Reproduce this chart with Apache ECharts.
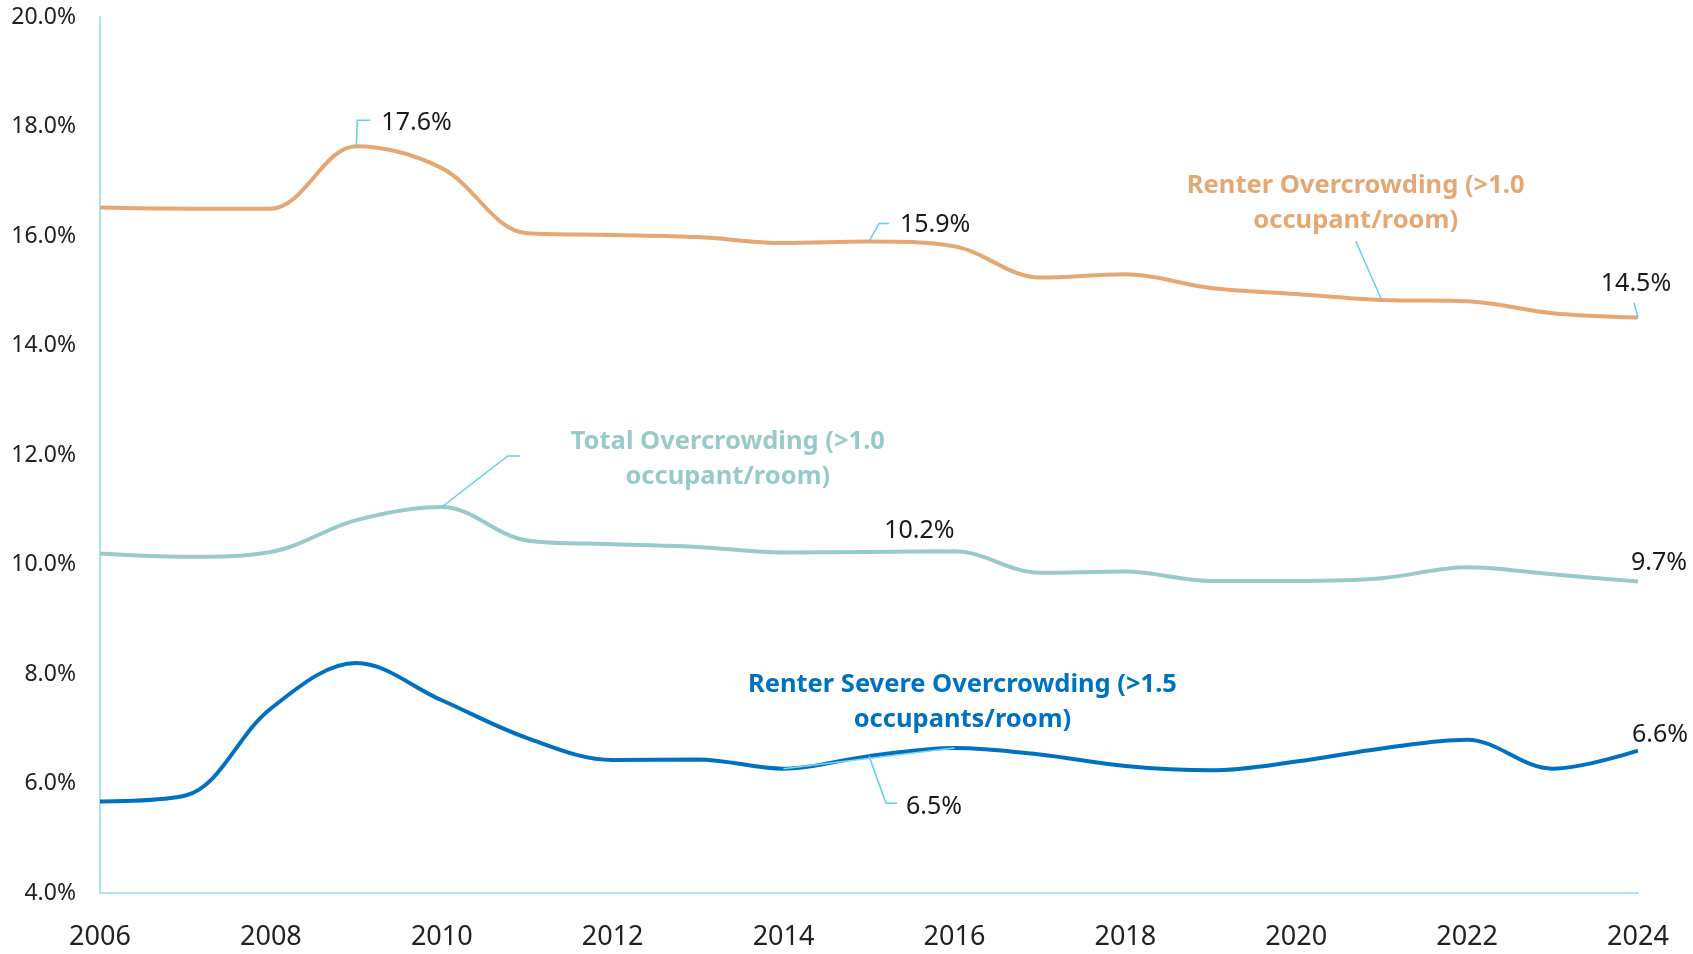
<!DOCTYPE html>
<html>
<head>
<meta charset="utf-8">
<title>Overcrowding</title>
<script src="https://cdn.jsdelivr.net/npm/echarts@6/dist/echarts.min.js"></script>
<style>
    html, body { margin: 0; padding: 0; background: #ffffff; }
    #chart--overcrowding { width: 1693px; height: 954px; }
</style>
</head>
<body>
<div id="chart--overcrowding"></div>
<script>
const years = ['2006', '2007', '2008', '2009', '2010', '2011', '2012', '2013', '2014', '2015',
    '2016', '2017', '2018', '2019', '2020', '2021', '2022', '2023', '2024'];
const renterOvercrowding = [16.52, 16.5, 16.5, 17.64, 17.24, 16.05, 16.02, 15.98, 15.87, 15.9,
    15.81, 15.24, 15.3, 15.05, 14.94, 14.83, 14.81, 14.59, 14.51];
const totalOvercrowding = [10.2, 10.14, 10.23, 10.81, 11.05, 10.44, 10.37, 10.32, 10.22, 10.23,
    10.24, 9.85, 9.87, 9.7, 9.7, 9.75, 9.95, 9.82, 9.69];
const renterSevereOvercrowding = [5.67, 5.78, 7.37, 8.2, 7.52, 6.83, 6.43, 6.44, 6.27, 6.5,
    6.65, 6.53, 6.32, 6.24, 6.4, 6.64, 6.8, 6.27, 6.6];
const seriesNames = [
    'Renter Overcrowding (>1.0\noccupant/room)',
    'Total Overcrowding (>1.0\noccupant/room)',
    'Renter Severe Overcrowding (>1.5\noccupants/room)'
];
const yAxisMin = 4;
const yAxisMax = 20;
const yAxisInterval = 2;

const seriesData = [renterOvercrowding, totalOvercrowding, renterSevereOvercrowding];
const seriesColors = ['#e5a874', '#99caca', '#0070c0'];
const leaderColor = '#5dd0f5';
const fontFamily = '"Noto Sans", "Open Sans", sans-serif';

// value labels: series index, point index, offset of the text, leader points relative to the point
const valueLabels = [
    { s: 0, i: 3, dx: 25, dy: -23, align: 'left', leader: [[0, 0], [1, -26], [14, -26]] },
    { s: 0, i: 9, dx: 31, dy: -17, align: 'left', leader: [[0, 0], [10, -18], [20, -18]] },
    { s: 0, i: 18, dx: -2, dy: -34, align: 'center', leader: [[0, 0], [-4, -15]] },
    { s: 1, i: 10, dx: -35, dy: -20, align: 'center' },
    { s: 1, i: 18, dx: 21, dy: -19, align: 'center' },
    { s: 2, i: 9, dx: 37, dy: 51, align: 'left', leader: [[0, 0], [17, 47], [28, 47]] },
    { s: 2, i: 18, dx: 22, dy: -16, align: 'center' }
];
// series name labels anchored on a point
const nameLabels = [
    { s: 0, i: 15, dx: -26, dy: -97, leader: [[0, 0], [-26, -59]] },
    { s: 1, i: 4, dx: 286, dy: -48, leader: [[0, 0], [66, -51], [78, -51]] },
    { s: 2, i: 10, dx: 8, dy: -46, from: 8 }
];

const chartElement = document.querySelector('#chart--overcrowding');
const chart = echarts.init(chartElement, null, { renderer: 'canvas' });

chart.setOption({
    animation: false,
    backgroundColor: '#ffffff',
    grid: { left: 100, right: 55, top: 17, bottom: 61, containLabel: false },
    xAxis: {
        type: 'category',
        data: years,
        boundaryGap: false,
        axisLine: { lineStyle: { color: '#a6e2f8', width: 2 } },
        axisTick: { show: false },
        axisLabel: {
            interval: 1,
            margin: 31,
            color: '#222222',
            fontSize: 27,
            fontFamily
        },
        splitLine: { show: false }
    },
    yAxis: {
        type: 'value',
        min: yAxisMin,
        max: yAxisMax,
        interval: yAxisInterval,
        axisLine: { show: true, lineStyle: { color: '#a6e2f8', width: 2 } },
        axisTick: { show: false },
        axisLabel: {
            margin: 24,
            color: '#222222',
            fontSize: 23,
            fontFamily,
            formatter: (value) => `${value.toFixed(1)}%`
        },
        splitLine: { show: false }
    },
    series: seriesData.map((data, index) => ({
        name: seriesNames[index].replace('\n', ' '),
        type: 'line',
        data,
        smooth: 0.35,
        showSymbol: false,
        lineStyle: { color: seriesColors[index], width: 4 },
        itemStyle: { color: seriesColors[index] },
        z: 3
    }))
});

function pointPixel(s, i) {
    return chart.convertToPixel({ seriesIndex: s }, [i, seriesData[s][i]]);
}

function leaderLine(base, leader) {
    return {
        type: 'polyline',
        z: 10,
        shape: { points: leader.map(([dx, dy]) => [base[0] + dx, base[1] + dy]) },
        style: { stroke: leaderColor, lineWidth: 1.5, fill: null }
    };
}

const graphics = [];
for (const item of valueLabels) {
    const base = pointPixel(item.s, item.i);
    if (item.leader) {
        graphics.push(leaderLine(base, item.leader));
    }
    graphics.push({
        type: 'text',
        z: 11,
        style: {
            text: `${seriesData[item.s][item.i].toFixed(1)}%`,
            x: base[0] + item.dx,
            y: base[1] + item.dy,
            align: item.align,
            verticalAlign: 'middle',
            fill: '#1a1a1a',
            fontSize: 25,
            fontFamily
        }
    });
}
for (const item of nameLabels) {
    const base = pointPixel(item.s, item.i);
    if (item.leader) {
        graphics.push(leaderLine(base, item.leader));
    }
    if (item.from !== undefined) {
        const start = pointPixel(item.s, item.from);
        graphics.push({
            type: 'line',
            z: 10,
            shape: { x1: start[0], y1: start[1], x2: base[0], y2: base[1] },
            style: { stroke: '#7fd6f5', lineWidth: 1.5 }
        });
    }
    graphics.push({
        type: 'text',
        z: 11,
        style: {
            text: seriesNames[item.s],
            x: base[0] + item.dx,
            y: base[1] + item.dy,
            align: 'center',
            verticalAlign: 'middle',
            lineHeight: 35,
            fill: seriesColors[item.s],
            fontSize: 25.5,
            fontWeight: 'bold',
            fontFamily
        }
    });
}
chart.setOption({ graphic: graphics });
</script>
</body>
</html>
